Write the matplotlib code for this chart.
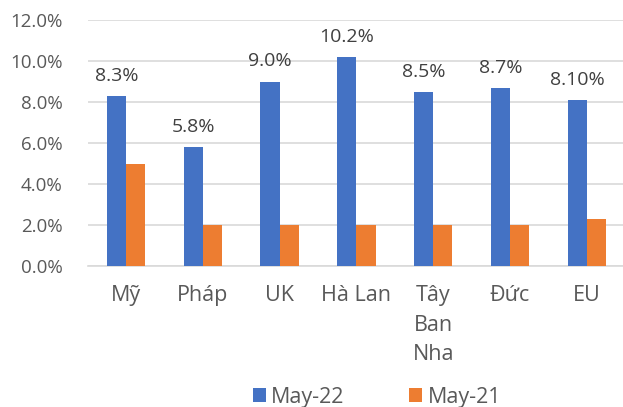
import numpy as np
import matplotlib.pyplot as plt

# Excel-style grouped bar chart, May-22 vs May-21

countries = ["Mỹ", "Pháp", "UK", "Hà Lan", "Tây\nBan\nNha", "Đức", "EU"]
may22 = [8.3, 5.8, 9.0, 10.2, 8.5, 8.7, 8.1]
may21 = [5.0, 2.0, 2.0, 2.0, 2.0, 2.0, 2.3]
may22_labels = ["8.3%", "5.8%", "9.0%", "10.2%", "8.5%", "8.7%", "8.10%"]
yticks = [0, 2, 4, 6, 8, 10, 12]

plt.rcParams['font.family'] = ['Open Sans', 'DejaVu Sans']
txt = '#595959'

fig = plt.figure(figsize=(6.23, 4.07), dpi=100)
ax = fig.add_axes([87.6 / 623, 1 - 266 / 407, 537.6 / 623, 246 / 407])

x = np.arange(len(countries))
w = 0.25
b1 = ax.bar(x - w / 2, may22, w, color='#4472C4', label='May-22', zorder=3)
b2 = ax.bar(x + w / 2, may21, w, color='#ED7D31', label='May-21', zorder=3)

for rect, lab in zip(b1, may22_labels):
    ax.annotate(lab, (rect.get_x() + rect.get_width() / 2, rect.get_height()),
                xytext=(0, 8), textcoords='offset points', ha='center', va='bottom',
                fontsize=14, color='#404040')

ax.set_xlim(-0.5, len(countries) - 0.5)
ax.set_ylim(0, 12)
ax.set_yticks(yticks)
ax.set_yticklabels(["%.1f%%" % v for v in yticks])
ax.set_xticks(x)
ax.set_xticklabels(countries, linespacing=1.52)
ax.tick_params(axis='y', length=0, pad=18, labelsize=13.5, labelcolor=txt)
ax.tick_params(axis='x', length=0, pad=14, labelsize=15.5, labelcolor=txt)
ax.grid(axis='y', color='#D9D9D9', linewidth=1.2, zorder=0)
for s in ['top', 'right', 'left']:
    ax.spines[s].set_visible(False)
ax.spines['bottom'].set_color('#D9D9D9')
ax.spines['bottom'].set_linewidth(1.2)

fig.legend(handles=[b1, b2], loc='center', bbox_to_anchor=(377 / 623, 1 - 397 / 407),
           ncol=2, frameon=False, fontsize=15.5, labelcolor=txt, handlelength=0.6,
           handleheight=0.6, handletextpad=0.25, columnspacing=3.0)

fig.savefig('out.png', dpi=100)
